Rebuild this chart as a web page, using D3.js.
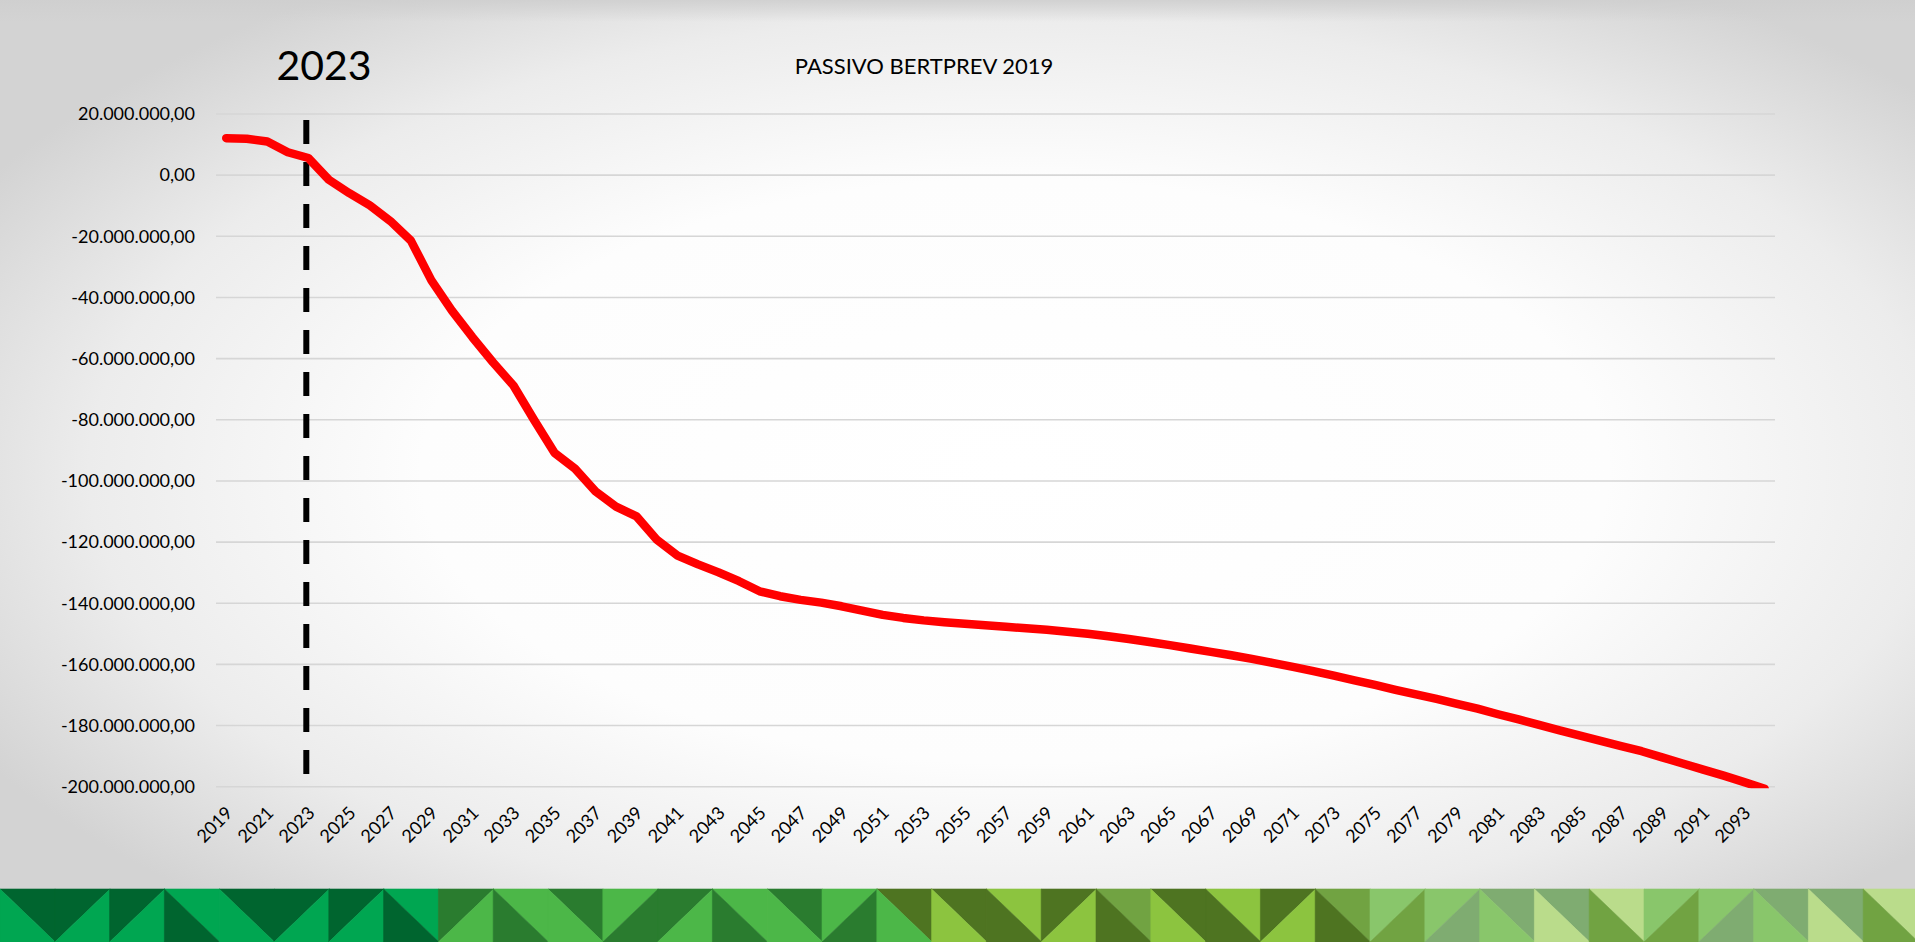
<!DOCTYPE html>
<html>
<head>
<meta charset="utf-8">
<script src="https://cdn.jsdelivr.net/npm/d3@7"></script>
<style>
  html, body { margin: 0; padding: 0; overflow: hidden; background: #ffffff; }
  svg { display: block; }
  text { font-family: Lato, "Open Sans", "Liberation Sans", sans-serif; fill: #000; }
</style>
</head>
<body>
<svg id="chart" width="1915" height="942"></svg>
<script>
// ---------------- DATA ----------------
const chartTitle = "PASSIVO BERTPREV 2019";
const markerLabel = "2023";
const markerYear = 2023;
const markerExtent = [18e6, -196e6];

const years = [
  2019,2020,2021,2022,2023,2024,2025,2026,2027,2028,
  2029,2030,2031,2032,2033,2034,2035,2036,2037,2038,
  2039,2040,2041,2042,2043,2044,2045,2046,2047,2048,
  2049,2050,2051,2052,2053,2054,2055,2056,2057,2058,
  2059,2060,2061,2062,2063,2064,2065,2066,2067,2068,
  2069,2070,2071,2072,2073,2074,2075,2076,2077,2078,
  2079,2080,2081,2082,2083,2084,2085,2086,2087,2088,
  2089,2090,2091,2092,2093,2094
];

// values in millions (R$)
const passivoMillions = [
  12.1, 11.9, 11.0, 7.5, 5.6, -1.5, -5.9, -9.9, -15.0, -21.4,
  -34.4, -44.3, -53.0, -61.2, -68.8, -80.0, -90.8, -96.0, -103.4, -108.4,
  -111.6, -119.3, -124.4, -127.3, -129.9, -132.8, -136.1, -137.7, -138.9, -139.8,
  -141.0, -142.4, -143.8, -144.8, -145.6, -146.2, -146.7, -147.2, -147.7, -148.2,
  -148.7, -149.3, -150.0, -150.8, -151.7, -152.7, -153.7, -154.8, -155.9, -157.0,
  -158.2, -159.5, -160.8, -162.2, -163.7, -165.2, -166.7, -168.3, -169.8, -171.3,
  -172.9, -174.5, -176.3, -178.0, -179.8, -181.6, -183.3, -185.0, -186.7, -188.4,
  -190.4, -192.4, -194.4, -196.4, -198.5, -200.7
];

const yTicks = [20e6, 0, -20e6, -40e6, -60e6, -80e6, -100e6, -120e6, -140e6, -160e6, -180e6, -200e6];
const xTickLabels = years.filter((y, i) => i % 2 === 0);

// decorative footer tiles: diagonal direction, upper triangle colour, lower triangle colour
const bandTiles = [
  ["\\","#00652f","#00a651"],["/","#00652f","#00a651"],["/","#00652f","#00a651"],["\\","#00a651","#00652f"],
  ["\\","#00652f","#00a651"],["/","#00652f","#00a651"],["/","#00652f","#00a651"],["\\","#00a651","#00652f"],
  ["/","#2a7c2f","#4cb748"],["\\","#4cb748","#2a7c2f"],["\\","#2a7c2f","#4cb748"],["/","#4cb748","#2a7c2f"],
  ["/","#2a7c2f","#4cb748"],["\\","#4cb748","#2a7c2f"],["\\","#2a7c2f","#4cb748"],["/","#4cb748","#2a7c2f"],
  ["\\","#4e7421","#4cb748"],["\\","#4e7421","#8cc43f"],["\\","#8cc43f","#4e7421"],["/","#4e7421","#8cc43f"],
  ["\\","#71a342","#4e7421"],["\\","#4e7421","#8cc43f"],["\\","#8cc43f","#4e7421"],["/","#4e7421","#8cc43f"],
  ["\\","#71a342","#4e7421"],["/","#89c66b","#71a342"],["/","#89c66b","#7fac71"],["\\","#7fac71","#89c66b"],
  ["\\","#7fac71","#badc8b"],["\\","#badc8b","#71a342"],["/","#89c66b","#71a342"],["/","#89c66b","#7fac71"],
  ["\\","#7fac71","#89c66b"],["\\","#7fac71","#badc8b"],["\\","#badc8b","#71a342"]
];

// ---------------- LAYOUT ----------------
const W = 1915, H = 942;
const plot = { left: 216, right: 1775, top: 114, bottom: 786.7 };
const band = { top: 889, height: 53, tileW: 54.8 };

const svg = d3.select("#chart");
const defs = svg.append("defs");

// background
const rg = defs.append("radialGradient").attr("id", "bg")
  .attr("cx", "0.53").attr("cy", "0.5").attr("r", "0.62");
rg.append("stop").attr("offset", "0").attr("stop-color", "#ffffff");
rg.append("stop").attr("offset", "0.5").attr("stop-color", "#fdfdfd");
rg.append("stop").attr("offset", "0.78").attr("stop-color", "#ececec");
rg.append("stop").attr("offset", "1").attr("stop-color", "#d3d3d3");
svg.append("rect").attr("width", W).attr("height", H).attr("fill", "url(#bg)");

const tg = defs.append("linearGradient").attr("id", "topShade")
  .attr("x1", 0).attr("y1", 0).attr("x2", 0).attr("y2", 1);
tg.append("stop").attr("offset", "0").attr("stop-color", "#cfcfcf").attr("stop-opacity", 0.9);
tg.append("stop").attr("offset", "1").attr("stop-color", "#cfcfcf").attr("stop-opacity", 0);
svg.append("rect").attr("width", W).attr("height", 22).attr("fill", "url(#topShade)");

// scales
const x = d3.scaleBand().domain(years).range([plot.left, plot.right]).padding(0);
const xc = d => x(d) + x.bandwidth() / 2;
const y = d3.scaleLinear().domain([-200e6, 20e6]).range([plot.bottom, plot.top]);

const ptBR = d3.formatLocale({ decimal: ",", thousands: ".", grouping: [3], currency: ["R$", ""], minus: "-" });
const fmt = ptBR.format(",.2f");

// gridlines
svg.append("g").selectAll("line").data(yTicks).join("line")
  .attr("x1", plot.left).attr("x2", plot.right)
  .attr("y1", d => y(d)).attr("y2", d => y(d))
  .attr("stroke", "#d6d6d6").attr("stroke-width", 1.6);

// y axis
const yAxis = svg.append("g").attr("transform", `translate(${plot.left},0)`)
  .call(d3.axisLeft(y).tickValues(yTicks).tickFormat(fmt).tickSize(0).tickPadding(21));
yAxis.select(".domain").remove();
yAxis.selectAll("text").attr("font-size", 18).attr("fill", "#000")
  .style("font-family", "Lato, 'Open Sans', sans-serif");

// x axis labels
const xAxis = svg.append("g").attr("transform", `translate(0,${plot.bottom})`)
  .call(d3.axisBottom(x).tickValues(xTickLabels).tickSize(0).tickFormat(d => String(d)));
xAxis.select(".domain").remove();
xAxis.selectAll("text")
  .attr("font-size", 18).attr("fill", "#000")
  .style("font-family", "Lato, 'Open Sans', sans-serif")
  .attr("text-anchor", "end")
  .attr("x", 0).attr("y", 0).attr("dy", "0.35em")
  .attr("transform", "translate(3,23) rotate(-45)");

// marker dashed line
svg.append("line")
  .attr("x1", xc(markerYear) - 2).attr("x2", xc(markerYear) - 2)
  .attr("y1", y(markerExtent[0])).attr("y2", y(markerExtent[1]))
  .attr("stroke", "#000").attr("stroke-width", 6)
  .attr("stroke-dasharray", "24,18");

// clip for series
defs.append("clipPath").attr("id", "plotClip").append("rect")
  .attr("x", 0).attr("y", 0).attr("width", W).attr("height", plot.bottom + 1.5);

const series = years.map((yr, i) => ({ year: yr, value: passivoMillions[i] * 1e6 }));
const line = d3.line().x(d => xc(d.year)).y(d => y(d.value));
svg.append("path").datum(series)
  .attr("clip-path", "url(#plotClip)")
  .attr("d", line)
  .attr("fill", "none").attr("stroke", "#ff0000")
  .attr("stroke-width", 8.5).attr("stroke-linejoin", "round").attr("stroke-linecap", "round");

// titles
svg.append("text").attr("x", 924).attr("y", 74).attr("text-anchor", "middle")
  .attr("font-size", 22).text(chartTitle);
svg.append("text").attr("x", 324).attr("y", 80).attr("text-anchor", "middle")
  .attr("font-size", 41).text(markerLabel);

// decorative band
const bandG = svg.append("g");
bandTiles.forEach((t, i) => {
  const x0 = i * band.tileW, x1 = x0 + band.tileW + 0.5;
  const y0 = band.top, y1 = band.top + band.height;
  let up, lo;
  if (t[0] === "\\") {
    up = [[x0, y0], [x1, y0], [x1, y1]];
    lo = [[x0, y0], [x0, y1], [x1, y1]];
  } else {
    up = [[x0, y0], [x1, y0], [x0, y1]];
    lo = [[x0, y1], [x1, y1], [x1, y0]];
  }
  bandG.append("path").attr("d", "M" + up.join("L") + "Z").attr("fill", t[1]).attr("stroke", t[1]).attr("stroke-width", 0.6);
  bandG.append("path").attr("d", "M" + lo.join("L") + "Z").attr("fill", t[2]).attr("stroke", t[2]).attr("stroke-width", 0.6);
});
</script>
</body>
</html>
